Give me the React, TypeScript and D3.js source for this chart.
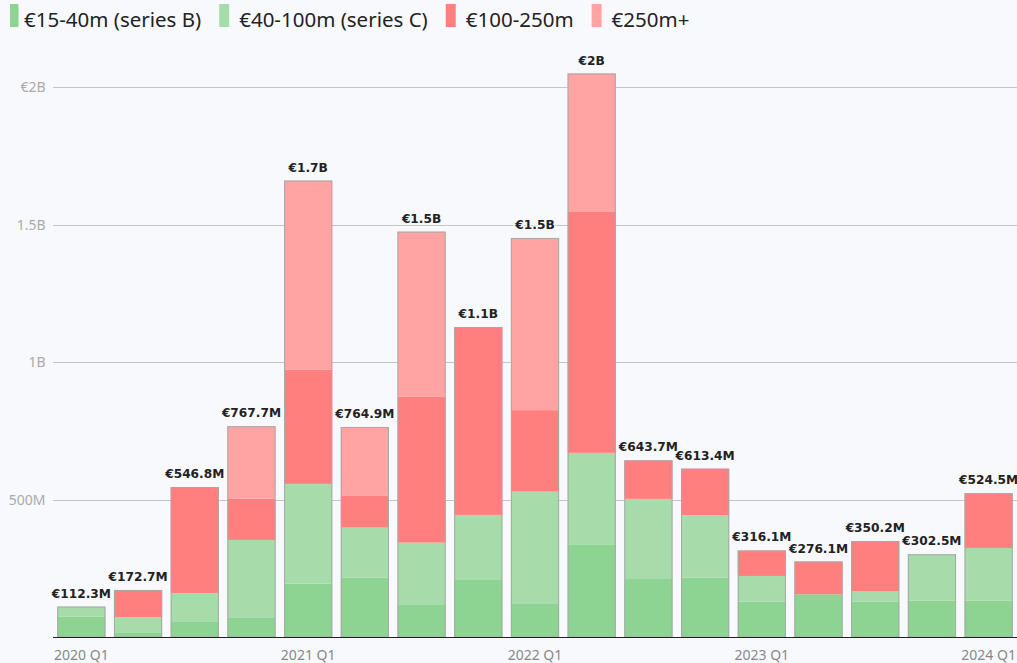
import React from "react";
import * as d3 from "d3";

const quarters = [
  "2020 Q1", "2020 Q2", "2020 Q3", "2020 Q4",
  "2021 Q1", "2021 Q2", "2021 Q3", "2021 Q4",
  "2022 Q1", "2022 Q2", "2022 Q3", "2022 Q4",
  "2023 Q1", "2023 Q2", "2023 Q3", "2023 Q4",
  "2024 Q1",
];
// values in € millions
const seriesB = [75.6, 19.0, 56.4, 73.4, 195.6, 217.5, 120.7, 211.6, 124.3, 336.4, 215.3, 217.5, 130.2, 157.0, 130.2, 133.8, 133.8];
const seriesC = [36.7, 54.4, 105.4, 281.1, 362.4, 181.8, 224.0, 233.8, 405.9, 334.5, 288.3, 226.8, 93.4, 0, 37.8, 168.7, 191.6];
const series100 = [0, 99.3, 385.0, 150.2, 414.7, 115.2, 529.8, 682.6, 295.8, 877.4, 140.1, 169.1, 92.5, 119.1, 182.2, 0, 199.1];
const series250 = [0, 0, 0, 263.0, 687.3, 250.4, 600.0, 0, 625.5, 500.7, 0, 0, 0, 0, 0, 0, 0];

const seriesNames = ["€15-40m (series B)", "€40-100m (series C)", "€100-250m", "€250m+"];
const seriesColors = ["#8dd391", "#a6dcaa", "#ff7f7f", "#ffa3a3"];

const yTicks = [500, 1000, 1500, 2000];
const yTickLabels = ["500M", "1B", "1.5B", "€2B"];
const xTickLabels = ["2020 Q1", "2021 Q1", "2022 Q1", "2023 Q1", "2024 Q1"];

const W = 1017;
const H = 663;
const BG = "#f8f9fc";
const SANS = "'Noto Sans', 'Open Sans', sans-serif";

function fmtTotal(v: number): string {
  if (v >= 1000) {
    return "€" + d3.format(".2~s")(v * 1e6).replace("G", "B");
  }
  return "€" + v.toFixed(1) + "M";
}

function measure(text: string, font: string): number {
  const c = document.createElement("canvas");
  const ctx = c.getContext("2d");
  if (!ctx) return text.length * 10;
  ctx.font = font;
  return ctx.measureText(text).width;
}

export default function App() {
  const all = [seriesB, seriesC, series100, series250];
  const rows = quarters.map((q, i) => ({
    q,
    s0: seriesB[i],
    s1: seriesC[i],
    s2: series100[i],
    s3: series250[i],
  }));
  const keys = ["s0", "s1", "s2", "s3"];
  const stacked = d3.stack<any>().keys(keys)(rows);
  const totals = quarters.map((_, i) => all.reduce((a, s) => a + s[i], 0));

  const x = d3.scaleBand<string>().domain(quarters).range([53, 1017]).paddingInner(0.15).paddingOuter(0.075);
  const y = d3.scaleLinear().domain([0, 2000]).range([637.5, 87]);

  const legendFontSize = 20.5;
  const legendFont = `${legendFontSize}px 'Noto Sans'`;
  let tx = 24;
  const legendItems = seriesNames.map((name, i) => {
    const item = { name, color: seriesColors[i], tx, sx: i === 0 ? 10 : tx - 20, sw: i === 0 ? 8.5 : 10 };
    tx += measure(name, legendFont) + 38;
    return item;
  });

  return (
    <svg width={W} height={H} style={{ position: "absolute", left: 0, top: 0 }}>
      <rect x={0} y={0} width={W} height={H} fill={BG} />
      {/* legend */}
      {legendItems.map((it) => (
        <g key={it.name}>
          <rect x={it.sx} y={4} width={it.sw} height={23} fill={it.color} />
          <text x={it.tx} y={26.5} fontFamily={SANS} fontSize={legendFontSize} fill="#222">
            {it.name}
          </text>
        </g>
      ))}
      {/* grid */}
      {yTicks.map((t, i) => (
        <g key={t}>
          <line x1={53} x2={W} y1={Math.round(y(t)) + 0.5} y2={Math.round(y(t)) + 0.5} stroke="#c4c4c4" strokeWidth={1} />
          <text x={45.5} y={y(t)} dy="0.35em" textAnchor="end" fontFamily={SANS} fontSize={14} fill="#aaa">
            {yTickLabels[i]}
          </text>
        </g>
      ))}
      {/* bars */}
      {stacked.map((layer, li) => (
        <g key={li} fill={seriesColors[li]}>
          {layer.map((d, i) => {
            const h = y(d[0]) - y(d[1]);
            if (h <= 0) return null;
            return <rect key={i} x={x(quarters[i])} y={y(d[1])} width={x.bandwidth()} height={h} />;
          })}
        </g>
      ))}
      {quarters.map((q, i) => (
        <rect
          key={q}
          x={(x(q) as number) + 0.5}
          y={y(totals[i]) + 0.5}
          width={x.bandwidth() - 1}
          height={y(0) - y(totals[i]) - 1}
          fill="none"
          stroke="#a8a8a8"
          strokeWidth={1}
        />
      ))}
      {/* baseline */}
      <line x1={53} x2={W} y1={637.5} y2={637.5} stroke="#222" strokeWidth={1.2} />
      {/* total labels */}
      {quarters.map((q, i) => (
        <text
          key={q}
          x={(x(q) as number) + x.bandwidth() / 2}
          y={y(totals[i]) - 9}
          textAnchor="middle"
          fontFamily="'DejaVu Sans', sans-serif"
          fontWeight="bold"
          fontSize={12.2}
          fill="#222"
          stroke={BG}
          strokeWidth={3}
          paintOrder="stroke"
          strokeLinejoin="round"
        >
          {fmtTotal(totals[i])}
        </text>
      ))}
      {/* x tick labels */}
      {xTickLabels.map((t) => (
        <text
          key={t}
          x={(x(t) as number) + x.bandwidth() / 2}
          y={660}
          textAnchor="middle"
          fontFamily={SANS}
          fontSize={14}
          fill="#888"
        >
          {t}
        </text>
      ))}
    </svg>
  );
}
